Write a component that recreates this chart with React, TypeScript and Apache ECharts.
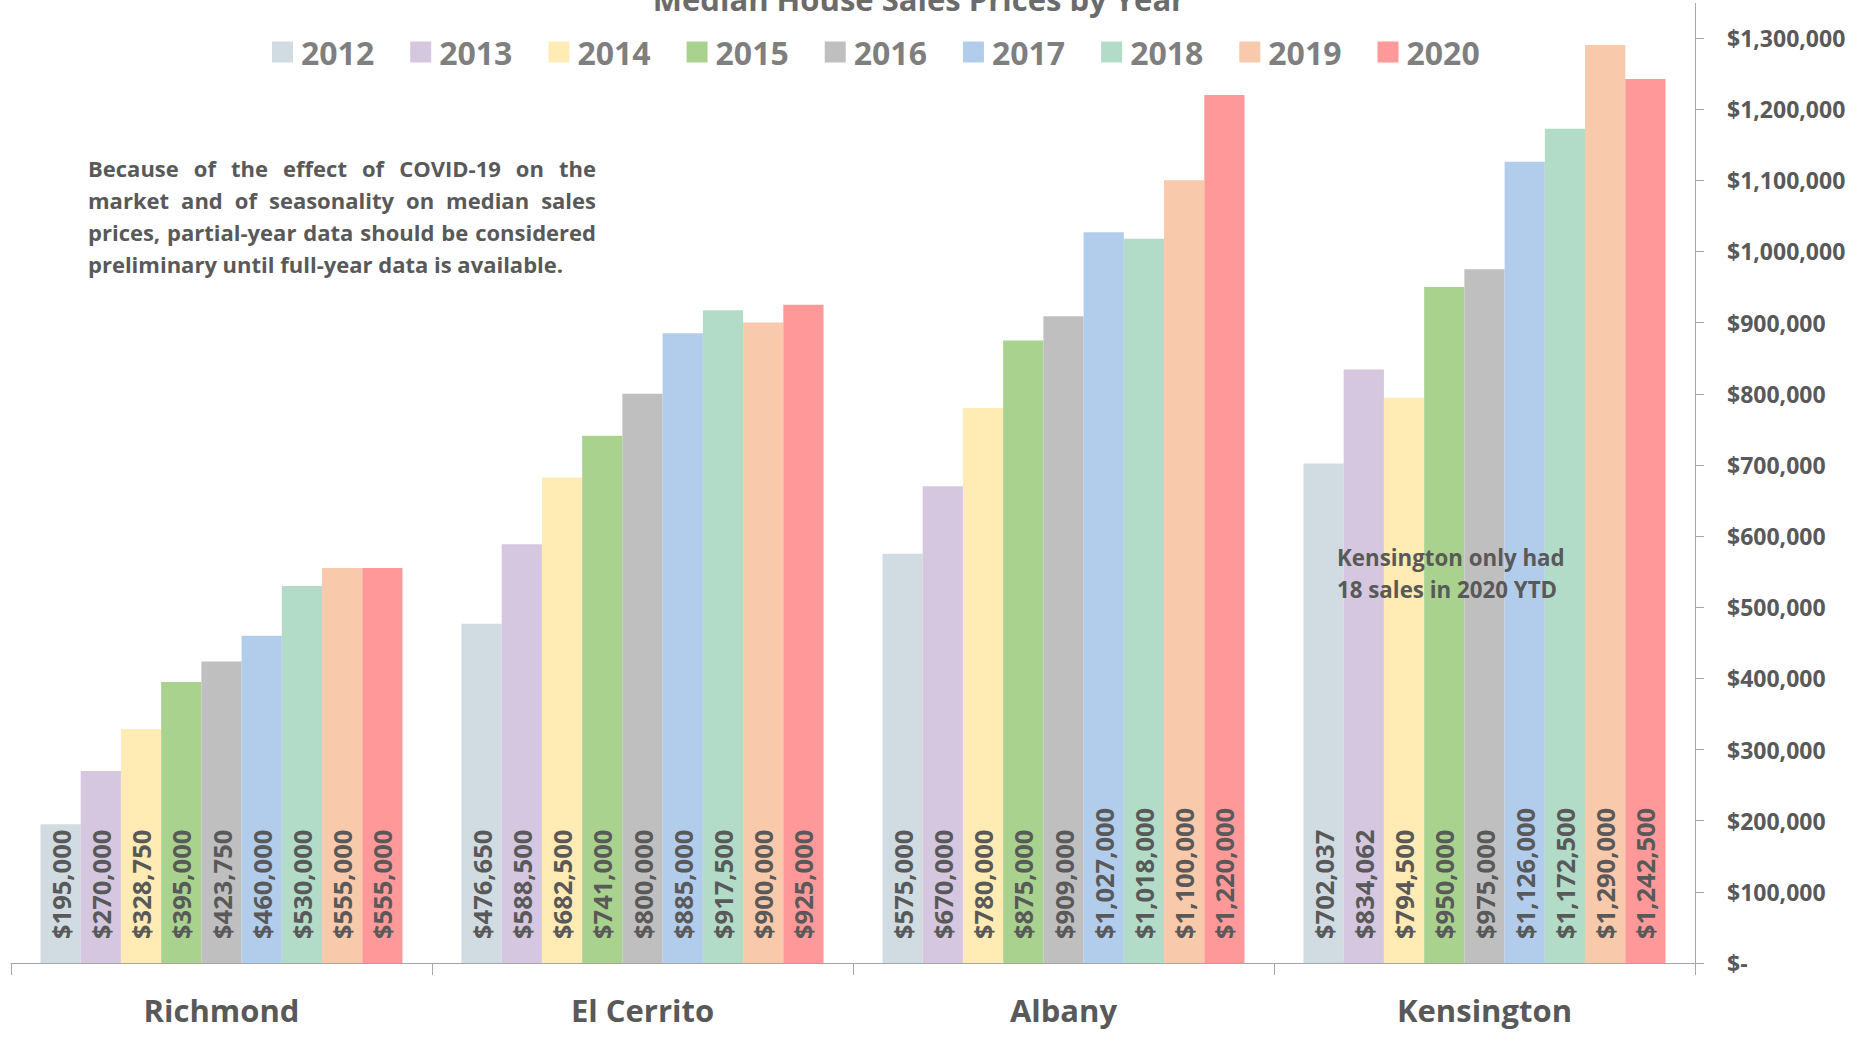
import React, { useEffect, useRef } from "react";
import * as echarts from "echarts";

// Cities along the category axis
const cities = ["Richmond", "El Cerrito", "Albany", "Kensington"];

// Sale years shown as series
const years = ["2012", "2013", "2014", "2015", "2016", "2017", "2018", "2019", "2020"];

// Median house sale price per city, one array per year
const prices2012 = [195000, 476650, 575000, 702037];
const prices2013 = [270000, 588500, 670000, 834062];
const prices2014 = [328750, 682500, 780000, 794500];
const prices2015 = [395000, 741000, 875000, 950000];
const prices2016 = [423750, 800000, 909000, 975000];
const prices2017 = [460000, 885000, 1027000, 1126000];
const prices2018 = [530000, 917500, 1018000, 1172500];
const prices2019 = [555000, 900000, 1100000, 1290000];
const prices2020 = [555000, 925000, 1220000, 1242500];

const pricesByYear = [
  prices2012, prices2013, prices2014, prices2015, prices2016,
  prices2017, prices2018, prices2019, prices2020,
];

// Value axis range and step
const yMin = 0;
const yMax = 1300000;
const yStep = 100000;

const TITLE = "Median House Sales Prices by Year";
const COVID_NOTE = [
  "Because of the effect of COVID-19 on the",
  "market and of seasonality on median sales",
  "prices, partial-year data should be considered",
  "preliminary until full-year data is available.",
];
const KENSINGTON_NOTE = ["Kensington only had", "18 sales in 2020 YTD"];

const COLORS = [
  "#d0dce2", "#d4c7df", "#ffebb3", "#a8d28e", "#bfbfbf",
  "#b2cceb", "#b3dcc8", "#f8c9aa", "#ff9999",
];

const FONT = "Open Sans";
const TEXT_DARK = "#595959";
const AXIS_GRAY = "#a6a6a6";

const money = (v: number) => "$" + v.toLocaleString("en-US");

// Lay out a justified paragraph as separate words, stretching every line but the last.
function justifiedWords(lines: string[], left: number, width: number, top: number, lineGap: number, fontSize: number) {
  const canvas = document.createElement("canvas");
  const ctx = canvas.getContext("2d") as CanvasRenderingContext2D;
  ctx.font = `bold ${fontSize}px "${FONT}"`;
  const out: any[] = [];
  lines.forEach((line, li) => {
    const y = top + li * lineGap;
    const words = line.split(" ");
    const last = li === lines.length - 1;
    const widths = words.map((w) => ctx.measureText(w).width);
    const sum = widths.reduce((a, b) => a + b, 0);
    const space = ctx.measureText(" ").width;
    const gap = last || words.length < 2 ? space : (width - sum) / (words.length - 1);
    let x = left;
    words.forEach((w, wi) => {
      out.push({
        type: "text",
        x,
        y,
        z: 100,
        style: {
          text: w,
          fill: TEXT_DARK,
          fontFamily: FONT,
          fontWeight: "bold",
          fontSize,
          align: "left",
          verticalAlign: "middle",
        },
      });
      x += widths[wi] + gap;
    });
  });
  return out;
}

export default function App() {
  const ref = useRef<HTMLDivElement>(null);

  useEffect(() => {
    if (!ref.current) return;
    const chart = echarts.init(ref.current, undefined, { renderer: "svg" });

    const series = years.map((year, i) => ({
      type: "bar",
      name: year,
      data: pricesByYear[i],
      barGap: "0%",
      barCategoryGap: "14%",
      itemStyle: { color: COLORS[i] },
      emphasis: { disabled: true },
      label: {
        show: true,
        position: "insideBottom",
        rotate: 90,
        align: "left",
        verticalAlign: "middle",
        distance: 24,
        formatter: (p: any) => money(p.value),
        fontFamily: FONT,
        fontWeight: "bold",
        fontSize: 25.5,
        color: TEXT_DARK,
      },
    }));

    const graphics: any[] = [
      {
        type: "text",
        x: 919,
        y: -1,
        z: 100,
        style: {
          text: TITLE,
          fill: "#6b6b6b",
          fontFamily: FONT,
          fontWeight: "bold",
          fontSize: 31,
          align: "center",
          verticalAlign: "middle",
        },
      },
      // value axis line continues above the top tick
      {
        type: "line",
        z: 100,
        shape: { x1: 1695.5, y1: 3, x2: 1695.5, y2: 38 },
        style: { stroke: AXIS_GRAY, lineWidth: 1 },
      },
      ...justifiedWords(COVID_NOTE, 88, 508, 168, 32, 22),
      ...KENSINGTON_NOTE.map((t, i) => ({
        type: "text",
        x: 1337,
        y: 557 + i * 32,
        z: 100,
        style: {
          text: t,
          fill: TEXT_DARK,
          fontFamily: FONT,
          fontWeight: "bold",
          fontSize: 22.3,
          align: "left",
          verticalAlign: "middle",
        },
      })),
    ];

    chart.setOption({
      animation: false,
      backgroundColor: "#ffffff",
      legend: {
        data: years,
        left: 267,
        top: 31,
        itemWidth: 21,
        itemHeight: 21,
        itemGap: 36,
        icon: "rect",
        selectedMode: false,
        textStyle: {
          fontFamily: FONT,
          fontWeight: "bold",
          fontSize: 32,
          color: "#7f7f7f",
          padding: [0, 0, 0, 3],
        },
      },
      grid: { left: 11, right: 170, top: 38, bottom: 75, containLabel: false },
      xAxis: {
        type: "category",
        data: cities,
        axisLine: { show: true, lineStyle: { color: AXIS_GRAY, width: 1 } },
        axisTick: { show: true, length: 12, lineStyle: { color: AXIS_GRAY } },
        axisLabel: {
          margin: 31,
          fontFamily: FONT,
          fontWeight: "bold",
          fontSize: 31,
          color: TEXT_DARK,
        },
      },
      yAxis: {
        type: "value",
        position: "right",
        min: yMin,
        max: yMax,
        interval: yStep,
        splitLine: { show: false },
        axisLine: { show: true, lineStyle: { color: AXIS_GRAY, width: 1 } },
        axisTick: { show: true, length: 9, lineStyle: { color: AXIS_GRAY } },
        axisLabel: {
          margin: 32,
          align: "left",
          fontFamily: FONT,
          fontWeight: "bold",
          fontSize: 23,
          color: TEXT_DARK,
          formatter: (v: number) => (v === 0 ? "$-" : money(v)),
        },
      },
      series,
      graphic: graphics,
    });

    return () => chart.dispose();
  }, []);

  return (
    <div
      ref={ref}
      style={{ position: "fixed", left: 0, top: 0, width: 1865, height: 1038 }}
    />
  );
}
